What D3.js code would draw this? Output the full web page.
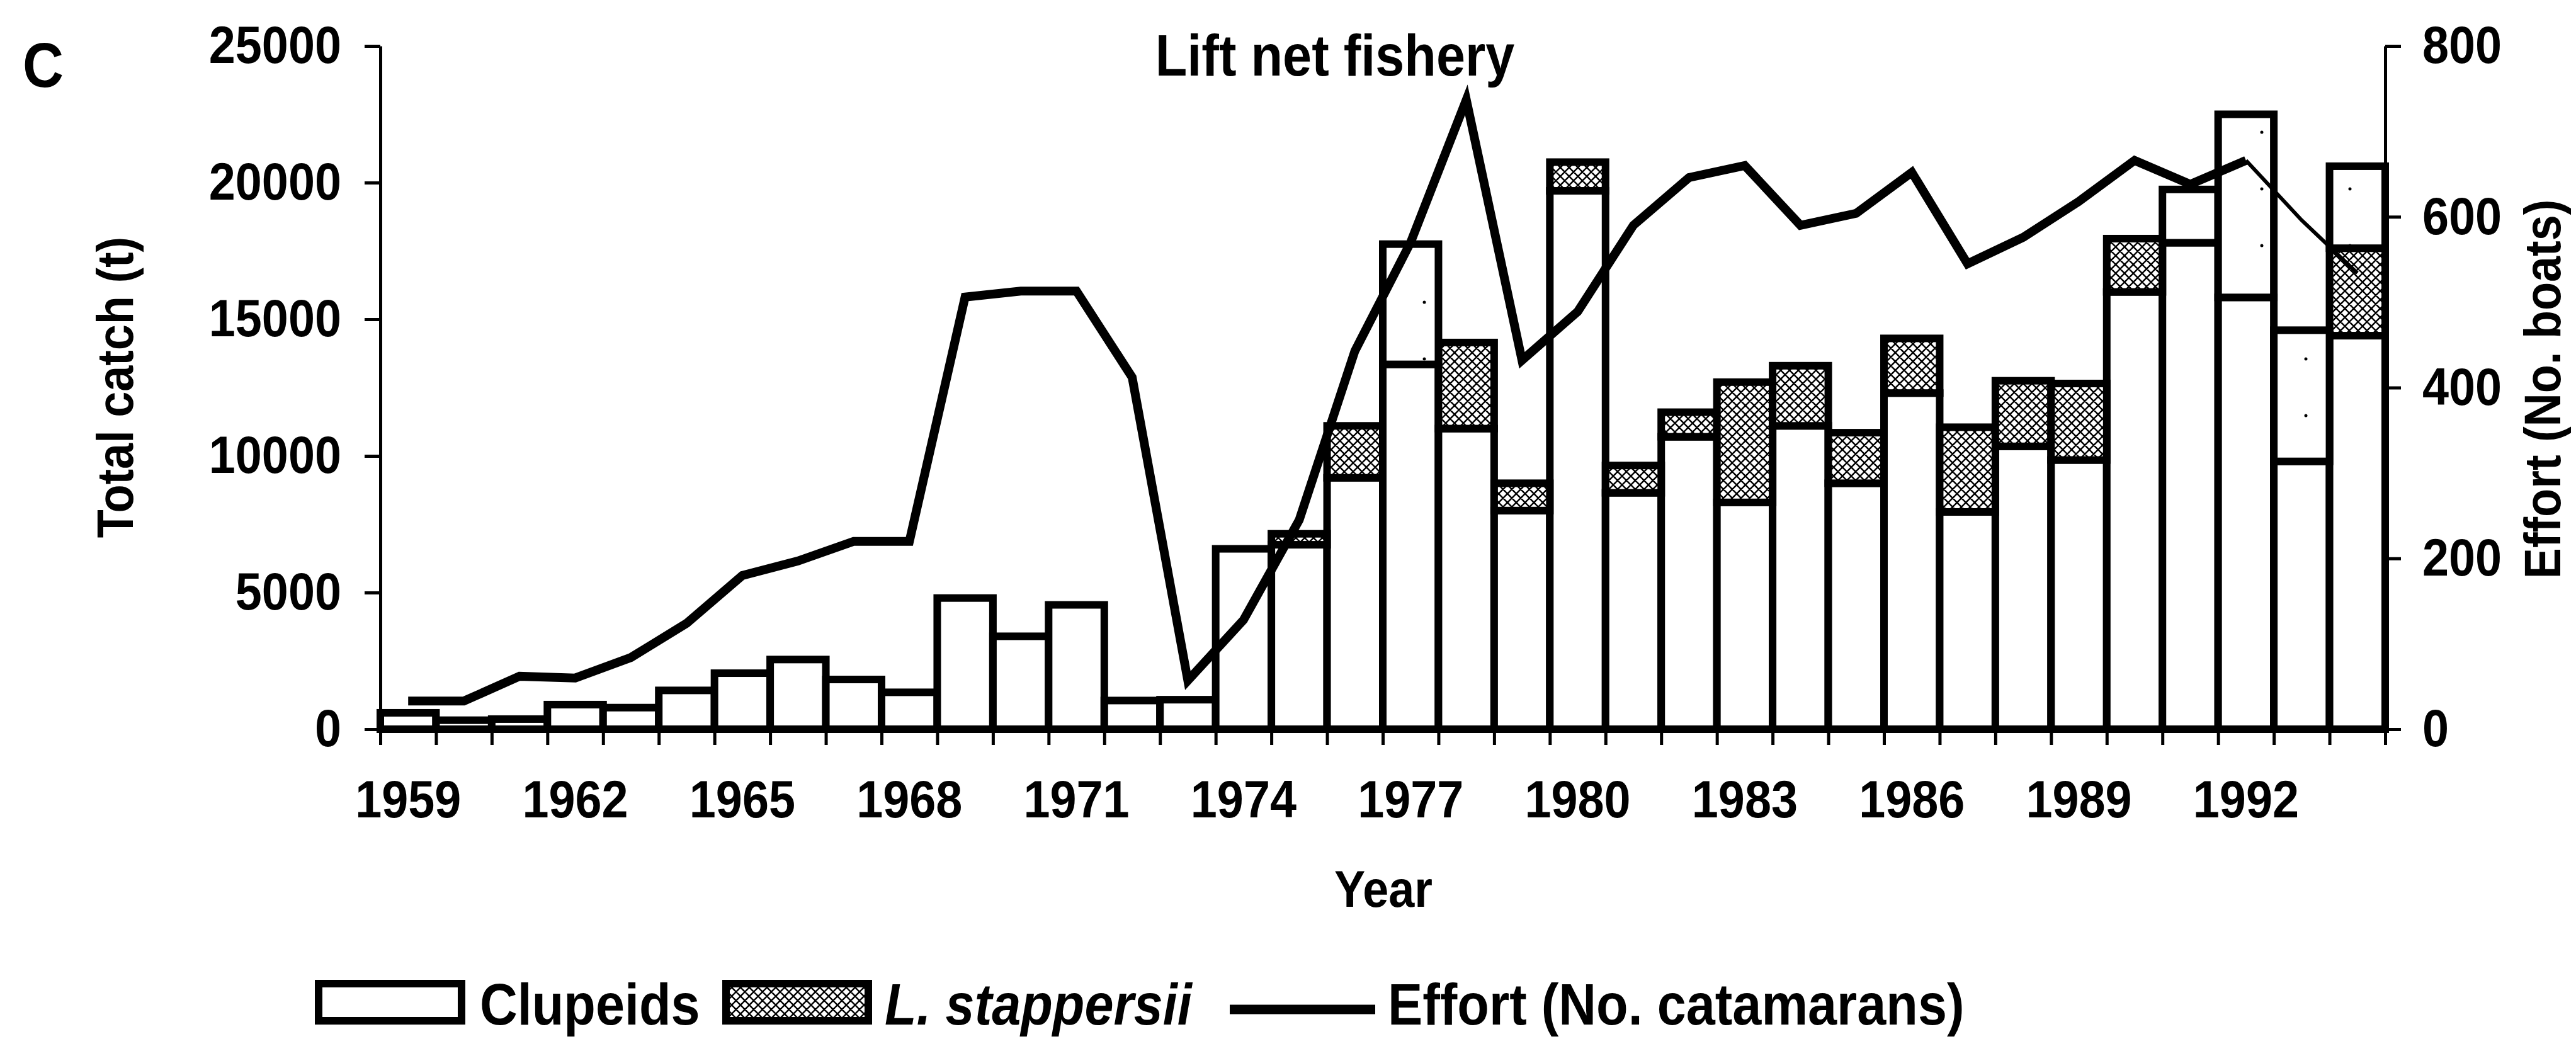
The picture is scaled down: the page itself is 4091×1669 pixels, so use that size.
<!DOCTYPE html>
<html>
<head>
<meta charset="utf-8">
<script src="https://cdn.jsdelivr.net/npm/d3@7"></script>
<style>
  body { margin: 0; background: #fff; }
  text { font-family: 'Liberation Sans', Arial, sans-serif; font-weight: bold; fill: #000; }
</style>
</head>
<body>
<svg id="chart" width="4091" height="1669"></svg>
<script>
// years 1959..1994
var years = d3.range(1959, 1995);

// catch (t) by group
var clupeids = [600, 330, 370, 900, 790, 1420, 2050, 2550, 1820, 1350,
                4800, 3400, 4550, 1050, 1080, 6600, 6750, 9200, 13350, 11000,
                8000, 19700, 8650, 10700, 8300, 11100, 9000, 12300, 7950, 10350,
                9850, 16000, 17800, 15800, 9800, 14400];
var stappersii = [0, 0, 0, 0, 0, 0, 0, 0, 0, 0,
                  0, 0, 0, 0, 0, 0, 400, 1900, 0, 3150,
                  1000, 1050, 1000, 900, 4400, 2200, 1850, 2000, 3100, 2400,
                  2800, 1950, 0, 0, 0, 3200];
// L. stappersii printed in a pale tone
var stappersiiPale = [0, 0, 0, 0, 0, 0, 0, 0, 0, 0,
                      0, 0, 0, 0, 0, 0, 0, 0, 4400, 0,
                      0, 0, 0, 0, 0, 0, 0, 0, 0, 0,
                      0, 0, 1950, 6700, 4800, 3000];
// effort (no. of boats)
var effort = [33, 33, 62, 60, 84, 124, 180, 197, 220, 220,
              506, 513, 513, 412, 57, 128, 245, 443, 570, 737,
              432, 489, 590, 646, 660, 590, 604, 652, 545, 576,
              618, 666, 638, 666, 596, 534];

var catchTicks = [0, 5000, 10000, 15000, 20000, 25000];
var effortTicks = [0, 200, 400, 600, 800];
var labelYears = [1959, 1962, 1965, 1968, 1971, 1974, 1977, 1980, 1983, 1986, 1989, 1992];

var W = 4091, H = 1669;
var plotL = 604, plotR = 3788, plotT = 73, plotB = 1158;
var SQ = 0.9; // narrow type like the scan

var svg = d3.select('#chart');
svg.append('rect').attr('width', W).attr('height', H).attr('fill', '#fff');

var defs = svg.append('defs');
var hatch = defs.append('pattern').attr('id', 'hatch')
  .attr('patternUnits', 'userSpaceOnUse').attr('width', 14).attr('height', 14);
hatch.append('rect').attr('width', 14).attr('height', 14).attr('fill', '#fff');
hatch.append('path')
  .attr('d', 'M-2,2 L2,-2 M0,14 L14,0 M12,16 L16,12 M-2,12 L2,16 M0,0 L14,14 M12,-2 L16,2')
  .attr('stroke', '#000').attr('stroke-width', 2.4);

var pale = defs.append('pattern').attr('id', 'pale')
  .attr('patternUnits', 'userSpaceOnUse').attr('width', 70).attr('height', 90);
pale.append('rect').attr('width', 70).attr('height', 90).attr('fill', '#fff');
pale.append('circle').attr('cx', 22).attr('cy', 30).attr('r', 2.5).attr('fill', '#000');

var x = d3.scaleBand().domain(years).range([plotL, plotR]);
var xEdge = d3.scaleLinear().domain([1959, 1995]).range([plotL, plotR]);
var yC = d3.scaleLinear().domain([0, 25000]).range([plotB, plotT]);
var yE = d3.scaleLinear().domain([0, 800]).range([plotB, plotT]);

var table = years.map(function(yr, i) {
  return { year: yr, clupeids: clupeids[i], stappersii: stappersii[i], pale: stappersiiPale[i] };
});
var series = d3.stack().keys(['clupeids', 'stappersii', 'pale'])(table);
var fills = { clupeids: '#fff', stappersii: 'url(#hatch)', pale: 'url(#pale)' };

/* BARS */
svg.append('g')
  .selectAll('g')
  .data(series)
  .join('g')
  .attr('fill', d => fills[d.key])
  .selectAll('rect')
  .data(d => d.filter(p => p[1] > p[0]))
  .join('rect')
  .attr('x', d => x(d.data.year))
  .attr('width', x.bandwidth())
  .attr('y', d => yC(d[1]))
  .attr('height', d => yC(d[0]) - yC(d[1]))
  .attr('stroke', '#000')
  .attr('stroke-width', 12);

/* AXES */
function squeeze(sel) {
  sel.each(function() {
    var t = d3.select(this);
    var x0 = +t.attr('x') || 0;
    t.attr('x', x0 / SQ).attr('transform', 'scale(' + SQ + ',1)');
  });
}

function styleAxis(g) {
  g.attr('font-size', null).attr('font-family', null);
  g.selectAll('path, line').attr('stroke', '#000').attr('stroke-width', 5);
  g.selectAll('text').attr('font-size', 84).call(squeeze);
}

var gL = svg.append('g')
  .attr('transform', 'translate(' + plotL + ',0)')
  .call(d3.axisLeft(yC).tickValues(catchTicks).tickSize(25).tickSizeOuter(0)
    .tickPadding(37).tickFormat(d3.format('d')));
styleAxis(gL);

var gR = svg.append('g')
  .attr('transform', 'translate(' + plotR + ',0)')
  .call(d3.axisRight(yE).tickValues(effortTicks).tickSize(25).tickSizeOuter(0)
    .tickPadding(34).tickFormat(d3.format('d')));
styleAxis(gR);

var gB = svg.append('g')
  .attr('transform', 'translate(0,' + plotB + ')')
  .call(d3.axisBottom(xEdge).tickValues(d3.range(1959, 1996)).tickSize(25)
    .tickSizeOuter(0).tickFormat(''));
styleAxis(gB);

var gBL = svg.append('g')
  .attr('transform', 'translate(0,' + plotB + ')')
  .call(d3.axisBottom(x).tickValues(labelYears).tickSize(0).tickPadding(80));
gBL.select('.domain').remove();
styleAxis(gBL);

/* EFFORT LINE */
var pts = years.map((yr, i) => ({ year: yr, v: effort[i] }));
var line = d3.line()
  .x(d => x(d.year) + x.bandwidth() / 2)
  .y(d => yE(d.v));

svg.append('path')
  .datum(pts.filter(p => p.year <= 1992))
  .attr('d', line)
  .attr('fill', 'none').attr('stroke', '#000')
  .attr('stroke-width', 14).attr('stroke-linejoin', 'miter');

svg.append('path')
  .datum(pts.filter(p => p.year >= 1992))
  .attr('d', line)
  .attr('fill', 'none').attr('stroke', '#000')
  .attr('stroke-width', 6);

/* TEXT */
function label(px, py, str, size, opts) {
  opts = opts || {};
  var tr = 'translate(' + px + ',' + py + ')' + (opts.rotate ? ' rotate(' + opts.rotate + ')' : '') +
    ' scale(' + SQ + ',1)';
  return svg.append('text')
    .attr('transform', tr)
    .attr('font-size', size)
    .attr('text-anchor', opts.anchor || 'start')
    .style('font-style', opts.italic ? 'italic' : null)
    .text(str);
}

label(36, 138, 'C', 100);
label(2120, 120, 'Lift net fishery', 92, { anchor: 'middle' });
label(2197, 1440, 'Year', 82, { anchor: 'middle' });
label(211, 615, 'Total catch (t)', 82, { anchor: 'middle', rotate: -90 });
label(4066, 618, 'Effort (No. boats)', 82, { anchor: 'middle', rotate: -90 });

/* LEGEND */
var legend = svg.append('g');
legend.append('rect').attr('x', 506).attr('y', 1562).attr('width', 227).attr('height', 59)
  .attr('fill', '#fff').attr('stroke', '#000').attr('stroke-width', 12);
legend.append('rect').attr('x', 1153).attr('y', 1562).attr('width', 226).attr('height', 59)
  .attr('fill', 'url(#hatch)').attr('stroke', '#000').attr('stroke-width', 12);
legend.append('line').attr('x1', 1953).attr('x2', 2184).attr('y1', 1603).attr('y2', 1603)
  .attr('stroke', '#000').attr('stroke-width', 15);

label(762, 1627, 'Clupeids', 92);
label(1405, 1627, 'L. stappersii', 92, { italic: true });
label(2204, 1627, 'Effort (No. catamarans)', 92);
</script>
</body>
</html>
